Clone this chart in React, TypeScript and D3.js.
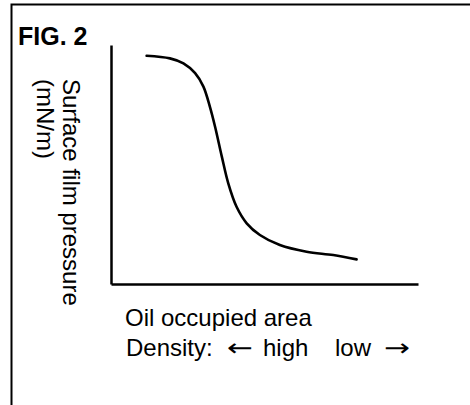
import React, { useEffect, useRef } from "react";
import * as d3 from "d3";

// curve (arbitrary units, 0-100 on both axes)
const area = [11.6, 19.2, 23.6, 27.4, 30.1, 32.2, 33.9, 36.1, 38.2, 40.9, 44.2, 48.5, 55.0, 63.7, 72.4, 80.0];
const pressure = [95.5, 94.4, 92.3, 88.2, 82.6, 74.2, 65.8, 53.3, 42.1, 32.3, 25.4, 20.5, 16.3, 13.5, 12.1, 10.3];

const yLabel = ["Surface film pressure", "(mN/m)"];
const xLabel = "Oil occupied area";
const densityParts = ["Density:", "\u2190", "high", "low", "\u2192"];

const App = () => {
  const svgRef = useRef(null);
  const W = 470;
  const H = 405;
  const margin = { top: 45, right: 52, bottom: 121, left: 111 };

  useEffect(() => {
    const svg = d3.select(svgRef.current);
    svg.selectAll("*").remove();
    const font = "'Liberation Sans', Arial, sans-serif";
    const arrowFont = "'DejaVu Sans', sans-serif";

    // outer frame (cut off at right and bottom)
    svg
      .append("rect")
      .attr("x", 11.5)
      .attr("y", 4.5)
      .attr("width", 480)
      .attr("height", 420)
      .attr("fill", "none")
      .attr("stroke", "#000")
      .attr("stroke-width", 2);

    const x = d3.scaleLinear().domain([0, 100]).range([margin.left, W - margin.right]);
    const y = d3.scaleLinear().domain([0, 100]).range([H - margin.bottom, margin.top]);

    // axes without ticks
    const gx = svg
      .append("g")
      .attr("transform", `translate(0,${H - margin.bottom})`)
      .call(d3.axisBottom(x).tickValues([]).tickSizeOuter(0));
    const gy = svg
      .append("g")
      .attr("transform", `translate(${margin.left},0)`)
      .call(d3.axisLeft(y).tickValues([]).tickSizeOuter(0));
    [gx, gy].forEach((g) => g.select(".domain").attr("stroke", "#000").attr("stroke-width", 2.5));

    const pts = area.map((a, i) => [a, pressure[i]]);
    const line = d3
      .line()
      .x((d) => x(d[0]))
      .y((d) => y(d[1]))
      .curve(d3.curveCatmullRom);
    svg
      .append("path")
      .attr("d", line(pts))
      .attr("fill", "none")
      .attr("stroke", "#000")
      .attr("stroke-width", 2.6)
      .attr("stroke-linecap", "round");

    // title
    svg
      .append("text")
      .attr("x", 18)
      .attr("y", 45)
      .attr("font-family", font)
      .attr("font-weight", "bold")
      .attr("font-size", 25)
      .text("FIG. 2");

    // rotated y label, reads top to bottom
    const yl = svg
      .append("text")
      .attr("transform", "translate(63,79) rotate(90)")
      .attr("font-family", font)
      .attr("font-size", 24);
    yLabel.forEach((t, i) => {
      yl.append("tspan").attr("x", 0).attr("y", i * 26.5).text(t);
    });

    svg
      .append("text")
      .attr("x", 125)
      .attr("y", 326)
      .attr("font-family", font)
      .attr("font-size", 24)
      .text(xLabel);

    const dx = [126, 227, 263, 335, 384];
    densityParts.forEach((t, i) => {
      const isArrow = t === "\u2190" || t === "\u2192";
      const txt = svg
        .append("text")
        .attr("x", dx[i])
        .attr("y", 356)
        .attr("font-family", isArrow ? arrowFont : font)
        .attr("font-size", 24)
        .text(t);
      if (isArrow) txt.attr("textLength", 26).attr("lengthAdjust", "spacingAndGlyphs");
    });
  }, []);

  return (
    <svg
      ref={svgRef}
      width={W}
      height={H}
      style={{ position: "absolute", left: 0, top: 0, background: "#fff" }}
    ></svg>
  );
};

export default App;
